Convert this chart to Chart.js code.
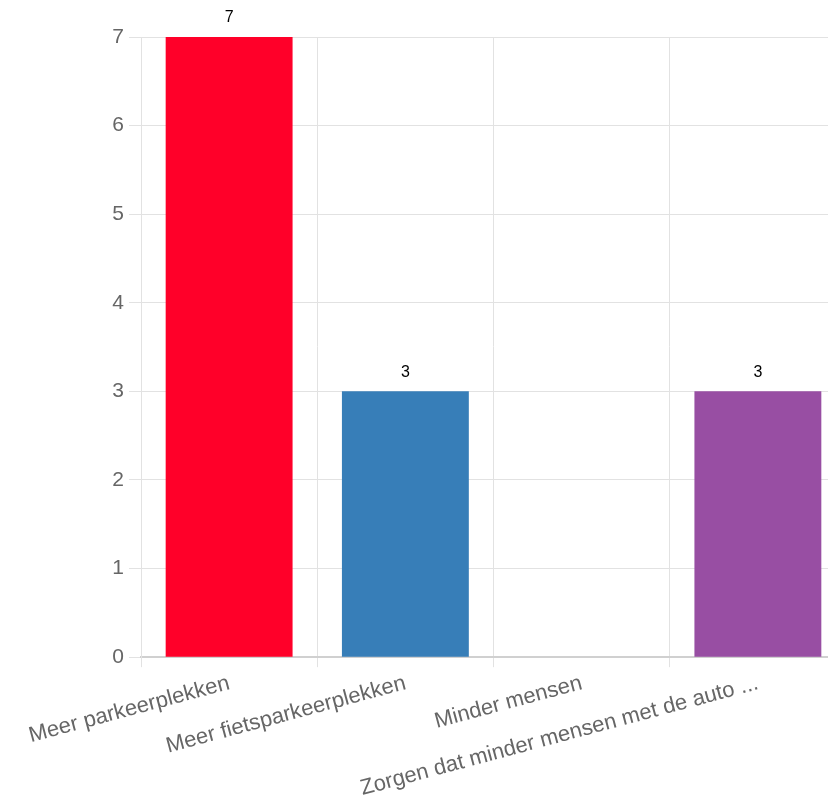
<!DOCTYPE html>
<html>
<head>
<meta charset="utf-8">
<script src="https://cdn.jsdelivr.net/npm/chart.js@4"></script>
<style>
  html, body { margin: 0; padding: 0; background: #fff; overflow: hidden; }
  #wrap { position: absolute; left: 0; top: 0; width: 846px; height: 810px; }
</style>
</head>
<body>
<div id="wrap"><canvas id="myChart"></canvas></div>
<script>
// categories and values
var categories = ['Meer parkeerplekken', 'Meer fietsparkeerplekken', 'Minder mensen', 'Zorgen dat minder mensen met de auto ...'];
var counts = [7, 3, 0, 3];
var barColors = ['#ff0029', '#377eb8', '#66a61e', '#984ea3'];
var yTicks = [0, 1, 2, 3, 4, 5, 6, 7];

var fontFamily = '"Liberation Sans", Arial, Helvetica, sans-serif';

// little plugin for the value on top of each bar
var valueLabels = {
  id: 'valueLabels',
  afterDatasetsDraw: function (chart) {
    var ctx = chart.ctx;
    var meta = chart.getDatasetMeta(0);
    ctx.save();
    ctx.font = '16px ' + fontFamily;
    ctx.fillStyle = '#000';
    ctx.textAlign = 'center';
    ctx.textBaseline = 'bottom';
    meta.data.forEach(function (bar, i) {
      if (!counts[i]) return;
      ctx.fillText(String(counts[i]), bar.x, bar.y - 11);
    });
    ctx.restore();
  }
};

var ctx = document.getElementById('myChart').getContext('2d');
var chart = new Chart(ctx, {
  type: 'bar',
  data: {
    labels: categories,
    datasets: [{
      data: counts,
      backgroundColor: barColors,
      borderWidth: 0
    }]
  },
  options: {
    responsive: true,
    maintainAspectRatio: false,
    animation: false,
    layout: { padding: { top: 37, bottom: 5 } },
    plugins: {
      legend: { display: false },
      tooltip: { enabled: false }
    },
    scales: {
      x: {
        grid: { color: '#e2e2e2', tickLength: 10, offset: true },
        border: { color: '#d0d0d0', width: 2 },
        ticks: {
          color: '#666',
          font: { family: fontFamily, size: 22 },
          minRotation: 15,
          maxRotation: 15,
          autoSkip: false
        }
      },
      y: {
        min: yTicks[0],
        max: yTicks[yTicks.length - 1],
        afterFit: function (scale) { scale.width = 141; },
        grid: { color: '#e2e2e2', tickLength: 12 },
        border: { color: '#e2e2e2' },
        ticks: {
          color: '#666',
          stepSize: 1,
          padding: 5,
          font: { family: fontFamily, size: 21 }
        }
      }
    }
  },
  plugins: [valueLabels]
});
</script>
</body>
</html>
